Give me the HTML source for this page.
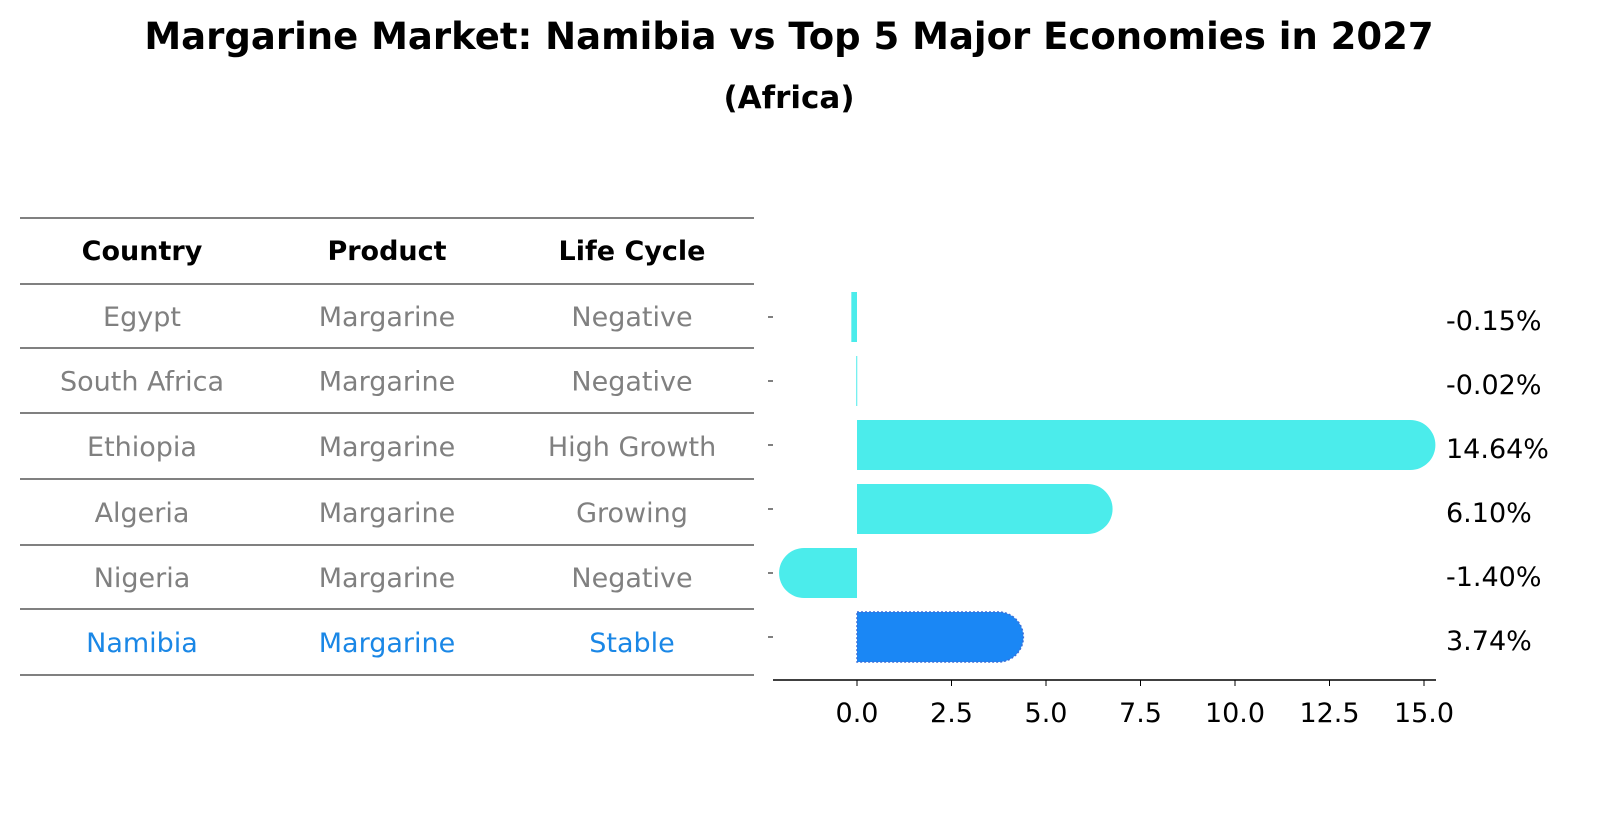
<!DOCTYPE html>
<html><head><meta charset="utf-8"><style>
body{margin:0;background:#fff;font-family:"Liberation Sans","DejaVu Sans",sans-serif;}
svg text{font-family:"DejaVu Sans","Liberation Sans",sans-serif;}
</style></head><body>
<svg id="c" width="1604" height="823" xmlns="http://www.w3.org/2000/svg">
<text x="789" y="49" text-anchor="middle" font-size="37" font-weight="bold">Margarine Market: Namibia vs Top 5 Major Economies in 2027</text>
<text x="789" y="108" text-anchor="middle" font-size="31" font-weight="bold">(Africa)</text>
<g id="table"></g>
<g id="bars"></g>
</svg>
<script>
const countries=["Egypt","South Africa","Ethiopia","Algeria","Nigeria","Namibia"];
const products=["Margarine","Margarine","Margarine","Margarine","Margarine","Margarine"];
const lifecycles=["Negative","Negative","High Growth","Growing","Negative","Stable"];
const values=[-0.15,-0.02,14.64,6.10,-1.40,3.74];
const valueLabels=["-0.15%","-0.02%","14.64%","6.10%","-1.40%","3.74%"];
const ticks=[0,2.5,5,7.5,10,12.5,15];
const tickLabels=["0.0","2.5","5.0","7.5","10.0","12.5","15.0"];
const NS="http://www.w3.org/2000/svg";
function mk(tag,attrs,parent,txt){const e=document.createElementNS(NS,tag);for(const k in attrs)e.setAttribute(k,attrs[k]);if(txt!==undefined)e.textContent=txt;parent.appendChild(e);return e;}
const tb=document.getElementById('table');
const lineYs=[218,284,348,413,479,545,609,675];
lineYs.forEach((y,i)=>{const l=mk('line',{x1:20,x2:754,y1:y,y2:y,stroke:'#000','stroke-width':1},tb);

});
const colX=[142,387,632];
["Country","Product","Life Cycle"].forEach((h,i)=>{const t=mk('text',{x:colX[i],y:260,'text-anchor':'middle','font-size':27,'font-weight':'bold'},tb,h);

});
countries.forEach((c,r)=>{const y=(lineYs[r+1]+lineYs[r+2])/2+10;const col=c==="Namibia"?"#1a87e6":"#808080";
[c,products[r],lifecycles[r]].forEach((v,i)=>{const t=mk('text',{x:colX[i],y:y,'text-anchor':'middle','font-size':27,fill:col},tb,v);

});});
const bg=document.getElementById('bars');
const x0=857,pxPer=37.8;const xs=v=>x0+v*pxPer;
const yc=i=>317+i*64;const h=50,r=25;
values.forEach((v,i)=>{const a=xs(0),b=xs(v);const top=yc(i)-h/2;const nam=countries[i]==="Namibia";
const fill=nam?"#1a87f5":"#4beceb";let d;
if(Math.abs(v)<0.5){const lo=Math.min(a,b),w=Math.max(Math.abs(b-a),1);d=`M${lo},${top}h${w}v${h}h${-w}z`;}
else if(v>0){d=`M${a},${top}H${b}A${r},${r} 0 0 1 ${b},${top+h}H${a}Z`;}
else{d=`M${a},${top}H${b}A${r},${r} 0 0 0 ${b},${top+h}H${a}Z`;}
const p=mk('path',{d:d,fill:fill},bg);
if(nam){p.setAttribute('stroke','#3a6fd8');p.setAttribute('stroke-dasharray','2,2');p.setAttribute('stroke-width','1.5');}


const t=mk('text',{x:1446,y:yc(i)+13,'font-size':27},bg,valueLabels[i]);


const tk=mk('line',{x1:768,x2:773,y1:yc(i),y2:yc(i),stroke:'#000'},bg);

});
const ax=mk('line',{x1:773,x2:1436,y1:680,y2:680,stroke:'#000','stroke-width':1.5},bg);


ticks.forEach((v,i)=>{const l=mk('line',{x1:xs(v),x2:xs(v),y1:680,y2:686,stroke:'#000'},bg);


const t=mk('text',{x:xs(v),y:722,'text-anchor':'middle','font-size':27},bg,tickLabels[i]);

});
</script>
</body></html>
